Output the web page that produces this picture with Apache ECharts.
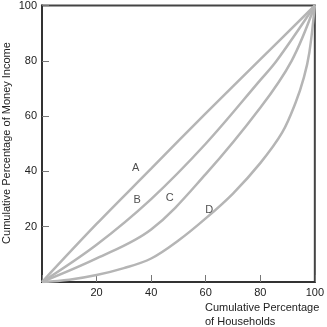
<!DOCTYPE html>
<html>
<head>
<meta charset="utf-8">
<script src="https://cdn.jsdelivr.net/npm/echarts@6/dist/echarts.min.js"></script>
<style>
html,body{margin:0;padding:0;background:#fff;}
#chart{width:327px;height:327px;}
</style>
</head>
<body>
<div id="chart"></div>
<script>
// Cumulative percentage of households (x) and money income (y)
var curveA = [[0,0],[20,21],[40,41],[60,61],[80,80.5],[100,100]];
var curveB = [[0,0],[20,13.5],[40,30],[60,50],[80,73],[86,80],[100,100]];
var curveC = [[0,0],[20,8.5],[40,19],[60,39],[80,63],[91.5,80],[100,100]];
var curveD = [[0,0],[10,0.8],[20,2.5],[30,5],[40,8.5],[50,15],[60,23],[70,32],[80,43],[88,54],[93,65],[96,74],[98,83],[100,100]];
var curveNames = ['A','B','C','D'];
var labelPoints = [[34.3,41.1],[34.9,29.7],[46.8,30.5],[61.3,25.9]];
var tickValues = [20,40,60,80,100];
var xTitle = 'Cumulative Percentage\nof Households';
var yTitle = 'Cumulative Percentage of Money Income';

var FONT = 'Liberation Sans, Arial, Helvetica, sans-serif';
var chart = echarts.init(document.getElementById('chart'));

function axis(){
  return {
    type:'value', min:0, max:100, interval:20,
    axisLine:{show:true, lineStyle:{color:'#333', width:2}},
    axisTick:{show:true, inside:true, length:7, lineStyle:{color:'#777', width:1}},
    axisLabel:{color:'#222', fontSize:11, fontFamily:FONT, margin:5,
      formatter:function(v){return tickValues.indexOf(v)>=0 ? String(v) : '';}},
    splitLine:{show:false}
  };
}
var curves = [curveA, curveB, curveC, curveD];
var series = curves.map(function(d,i){
  return {type:'line', name:curveNames[i], data:d, smooth:0.35, symbol:'none',
    lineStyle:{color:'#b5b5b5', width:2.5}, silent:true, z:2};
});
series.push({
  type:'scatter', symbolSize:0,
  data:labelPoints.map(function(p,i){return {value:p, name:curveNames[i]};}),
  label:{show:true, position:'inside', formatter:function(p){return p.name;},
    color:'#222', fontSize:11, fontFamily:FONT}, z:3
});

chart.setOption({
  animation:false,
  grid:{left:42, right:8, top:5, bottom:45, show:true, borderColor:'#444', borderWidth:2, backgroundColor:'transparent'},
  xAxis:axis(),
  yAxis:axis(),
  series:series,
  graphic:[
    {type:'text', left:205, top:301, style:{text:xTitle, font:'11px '+FONT, fill:'#222', lineHeight:14}},
    {type:'text', x:7, y:143, rotation:Math.PI/2, style:{text:yTitle, font:'11px '+FONT, fill:'#222', textAlign:'center', textVerticalAlign:'middle'}}
  ]
});
</script>
</body>
</html>
